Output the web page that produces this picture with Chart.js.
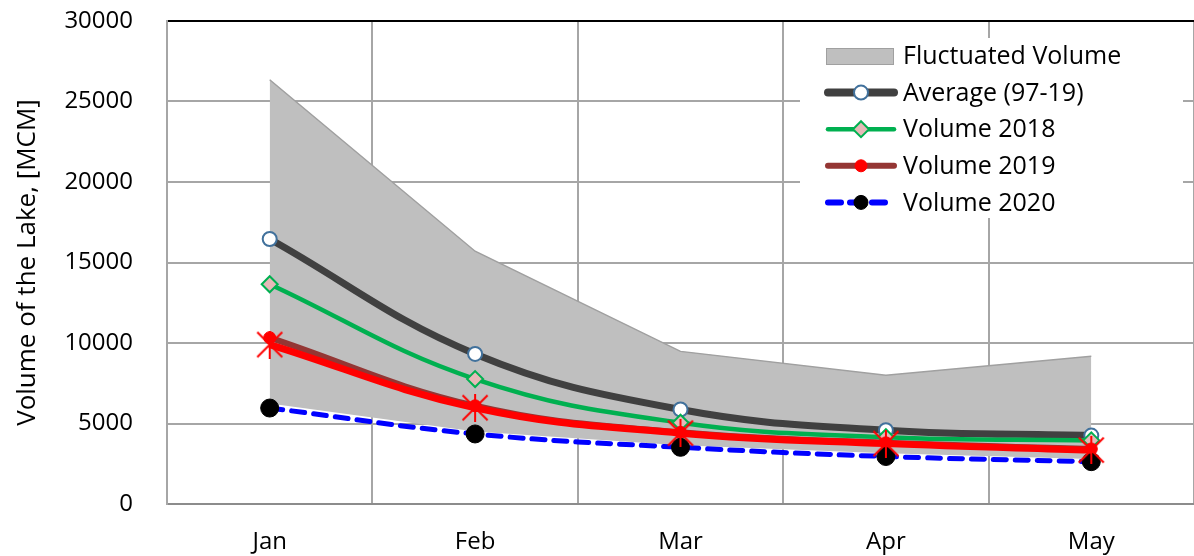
<!DOCTYPE html>
<html>
<head>
<meta charset="utf-8">
<script src="https://cdn.jsdelivr.net/npm/chart.js@4.4.1/dist/chart.umd.min.js"></script>
<style>
  html, body { margin: 0; padding: 0; background: #fff; overflow: hidden; }
  #wrap { width: 1194px; height: 556px; position: relative; }
  #lake { display: block; }
</style>
</head>
<body>
<div id="wrap"><canvas id="lake"></canvas></div>
<script>
// --- DATA ---
const months = ['Jan', 'Feb', 'Mar', 'Apr', 'May'];
const bandLower = [6250, 4500, 3650, 3150, 2800];
const bandUpper = [26350, 15700, 9480, 8000, 9180];
const average = [16460, 9320, 5870, 4580, 4250];
const vol2018 = [13650, 7760, 5050, 4150, 3950];
const vol2019 = [10330, 6100, 4450, 3800, 3420];
const vol2019Trend = [9900, 5980, 4400, 3750, 3350];
const vol2020 = [5960, 4350, 3520, 2950, 2630];
const yMin = 0, yMax = 30000, yStep = 5000;

const FONT = "'Open Sans', 'DejaVu Sans', sans-serif";

// red asterisk marker (X plus a vertical stroke)
const makeAsterisk = (size, color, lw) => {
    const c = document.createElement('canvas');
    c.width = size; c.height = size;
    const g = c.getContext('2d');
    g.strokeStyle = color;
    g.lineWidth = lw;
    const m = 1.5;
    g.beginPath();
    g.moveTo(m, m); g.lineTo(size - m, size - m);
    g.moveTo(size - m, m); g.lineTo(m, size - m);
    g.moveTo(size / 2, 0); g.lineTo(size / 2, size);
    g.stroke();
    return c;
};
const asterisk = makeAsterisk(28, '#ff0000', 2);

// legend drawn inside the plot, on a white box that hides the grid
const boxLegend = {
    id: 'boxLegend',
    beforeDatasetsDraw(chart) {
        const ctx = chart.ctx;
        const left = 800, top = 38, w = 383, h = 180;
        const rowH = 36.6, firstY = 56;
        const symL = 826, symR = 896, markX = 861, textX = 903;
        ctx.save();
        ctx.fillStyle = '#ffffff';
        ctx.fillRect(left, top, w, h);
        ctx.font = `25px ${FONT}`;
        ctx.textBaseline = 'middle';
        ctx.textAlign = 'left';
        const items = chart.data.datasets.filter(d => d.legendKind);
        items.forEach((ds, i) => {
            const y = firstY + i * rowH;
            if (ds.legendKind === 'box') {
                ctx.fillStyle = ds.backgroundColor;
                ctx.fillRect(symL, y - 8, 68, 17);
                ctx.strokeStyle = ds.borderColor;
                ctx.lineWidth = 1;
                ctx.strokeRect(symL + 0.5, y - 7.5, 67, 16);
            } else {
                ctx.save();
                ctx.strokeStyle = ds.borderColor;
                ctx.lineWidth = ds.legendLineWidth || ds.borderWidth;
                ctx.lineCap = 'round';
                ctx.setLineDash(ds.borderDash || []);
                ctx.beginPath();
                ctx.moveTo(symL + 2, y);
                ctx.lineTo(symR - 2, y);
                ctx.stroke();
                ctx.restore();
                ctx.save();
                ctx.fillStyle = ds.pointBackgroundColor;
                ctx.strokeStyle = ds.pointBorderColor;
                ctx.lineWidth = ds.pointBorderWidth;
                Chart.helpers.drawPoint(ctx, {
                    pointStyle: ds.pointStyle,
                    radius: ds.legendRadius,
                    borderWidth: ds.pointBorderWidth,
                    rotation: 0
                }, markX, y);
                ctx.restore();
            }
            ctx.fillStyle = '#000000';
            ctx.fillText(ds.label, textX, y + 1);
        });
        ctx.restore();
    }
};

new Chart(document.getElementById('lake'), {
    type: 'line',
    data: {
        labels: months,
        datasets: [
            {
                label: 'Fluctuated Lower',
                data: bandLower,
                borderColor: 'rgba(0,0,0,0)',
                borderWidth: 0,
                pointRadius: 0,
                tension: 0,
                fill: false,
                order: 10
            },
            {
                label: 'Fluctuated Volume',
                legendKind: 'box',
                data: bandUpper,
                borderColor: '#a0a0a0',
                backgroundColor: '#bfbfbf',
                borderWidth: 1.5,
                pointRadius: 0,
                tension: 0,
                fill: '-1',
                order: 9
            },
            {
                label: 'Average (97-19)',
                legendKind: 'line',
                data: average,
                borderColor: '#404040',
                borderWidth: 7,
                tension: 0.4,
                pointStyle: 'circle',
                pointRadius: 7,
                legendRadius: 7,
                pointBackgroundColor: '#ffffff',
                pointBorderColor: '#41719c',
                pointBorderWidth: 2,
                legendLineWidth: 8,
                order: 5
            },
            {
                label: 'Volume 2018',
                legendKind: 'line',
                data: vol2018,
                borderColor: '#00b050',
                borderWidth: 4.5,
                tension: 0.4,
                pointStyle: 'rectRot',
                pointRadius: 8,
                legendRadius: 8,
                pointBackgroundColor: '#e6b9b8',
                pointBorderColor: '#00b050',
                pointBorderWidth: 2,
                order: 4
            },
            {
                label: 'Volume 2019',
                legendKind: 'line',
                data: vol2019,
                borderColor: '#943634',
                borderWidth: 6,
                tension: 0.4,
                pointStyle: 'circle',
                pointRadius: 6,
                legendRadius: 6,
                pointBackgroundColor: '#ff0000',
                pointBorderColor: '#ff0000',
                pointBorderWidth: 1,
                order: 3
            },
            {
                label: 'Volume 2020',
                legendKind: 'line',
                data: vol2020,
                borderColor: '#0000ff',
                borderWidth: 5,
                borderDash: [13, 9],
                borderCapStyle: 'round',
                tension: 0.4,
                pointStyle: 'circle',
                pointRadius: 9,
                legendRadius: 7,
                pointBackgroundColor: '#000000',
                pointBorderColor: '#000000',
                pointBorderWidth: 1,
                legendLineWidth: 6,
                order: 1
            },
            {
                label: 'Volume 2019 (smoothed)',
                data: vol2019Trend,
                borderColor: '#ff0000',
                borderWidth: 7,
                tension: 0.4,
                pointStyle: asterisk,
                pointRadius: 13,
                order: 0
            }
        ]
    },
    options: {
        responsive: true,
        maintainAspectRatio: false,
        animation: false,
        layout: { autoPadding: false, padding: { top: 21, right: 0, left: 0, bottom: 0 } },
        plugins: {
            legend: { display: false },
            tooltip: { enabled: false }
        },
        scales: {
            x: {
                offset: true,
                grid: {
                    offset: true,
                    color: '#a6a6a6',
                    lineWidth: 2,
                    drawTicks: false
                },
                border: { color: '#8c8c8c', width: 2 },
                ticks: {
                    color: '#000000',
                    font: { family: FONT, size: 24 },
                    padding: 24
                },
                afterFit: (scale) => {
                    scale.height = 52;
                    scale.paddingLeft = 0;
                    scale.paddingRight = 0;
                }
            },
            y: {
                min: yMin,
                max: yMax,
                ticks: {
                    stepSize: yStep,
                    color: '#000000',
                    font: { family: FONT, size: 24 },
                    padding: 34,
                    callback: (v) => String(v)
                },
                grid: {
                    color: (c) => (c.tick && c.tick.value === yMax ? '#000000' : '#a6a6a6'),
                    lineWidth: 2,
                    drawTicks: false
                },
                border: { color: '#a6a6a6', width: 2 },
                title: {
                    display: true,
                    text: 'Volume of the Lake, [MCM]',
                    color: '#000000',
                    font: { family: FONT, size: 26 },
                    padding: { top: 12, bottom: 0 }
                },
                afterFit: (scale) => {
                    scale.width = 167;
                    scale.paddingTop = 0;
                    scale.paddingBottom = 0;
                }
            }
        }
    },
    plugins: [boxLegend]
});
</script>
</body>
</html>
